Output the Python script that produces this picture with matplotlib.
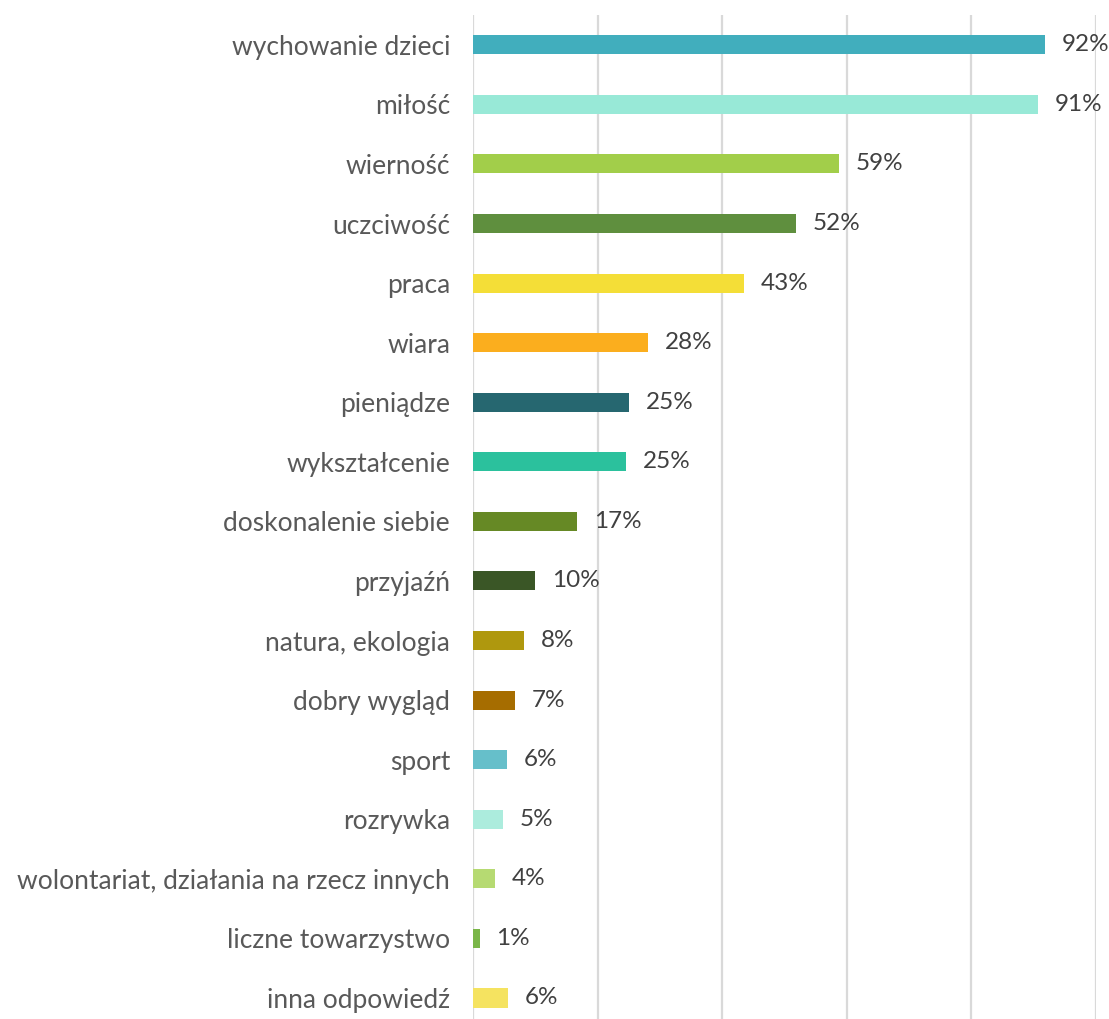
import matplotlib
matplotlib.use("Agg")
import matplotlib.pyplot as plt

# categories from top to bottom
categories = [
    "wychowanie dzieci", "miłość", "wierność", "uczciwość", "praca", "wiara",
    "pieniądze", "wykształcenie", "doskonalenie siebie", "przyjaźń",
    "natura, ekologia", "dobry wygląd", "sport", "rozrywka",
    "wolontariat, działania na rzecz innych", "liczne towarzystwo",
    "inna odpowiedź",
]
values = [91.8, 90.7, 58.7, 51.8, 43.5, 28.1, 25.0, 24.6, 16.7, 10.0,
          8.2, 6.7, 5.5, 4.8, 3.5, 1.1, 5.6]
pct_labels = ["92%", "91%", "59%", "52%", "43%", "28%", "25%", "25%", "17%",
              "10%", "8%", "7%", "6%", "5%", "4%", "1%", "6%"]
colors = ["#41AEBD", "#98E9D7", "#A2CE4A", "#5F8F3E", "#F4DE37", "#FBAE1E",
          "#266770", "#2BC19D", "#668925", "#3A5626", "#AF980E", "#A66D00",
          "#66BFCA", "#ACECDD", "#B6DA72", "#7AB648", "#F5E360"]

plt.rcParams['font.family'] = ['Lato', 'DejaVu Sans']

fig = plt.figure(figsize=(11.09, 10.19), dpi=100)
ax = fig.add_axes([473 / 1109, 0, (1096 - 473) / 1109, 1 - 15 / 1019])

pos = list(range(len(categories)))
ax.barh(pos, values, height=0.32, color=colors, zorder=3)

for p, v, t in zip(pos, values, pct_labels):
    ax.annotate(t, (v, p), xytext=(12, 0), textcoords="offset points",
                va="center", ha="left", fontsize=17.5, color="#404040")

ax.set_xlim(0, 100)
ax.set_ylim(16 + 21 / 59.56, -0.5)
ax.set_xticks(range(0, 101, 20))
ax.set_xticklabels([])
ax.tick_params(axis="x", length=0)
ax.grid(axis="x", color="#D9D9D9", linewidth=1.6, zorder=0)

ax.set_yticks(pos)
ax.set_yticklabels(categories, fontsize=19, color="#595959")
ax.tick_params(axis="y", length=0, pad=16.5)

for s in ax.spines.values():
    s.set_visible(False)

fig.savefig("out.png", dpi=100)
